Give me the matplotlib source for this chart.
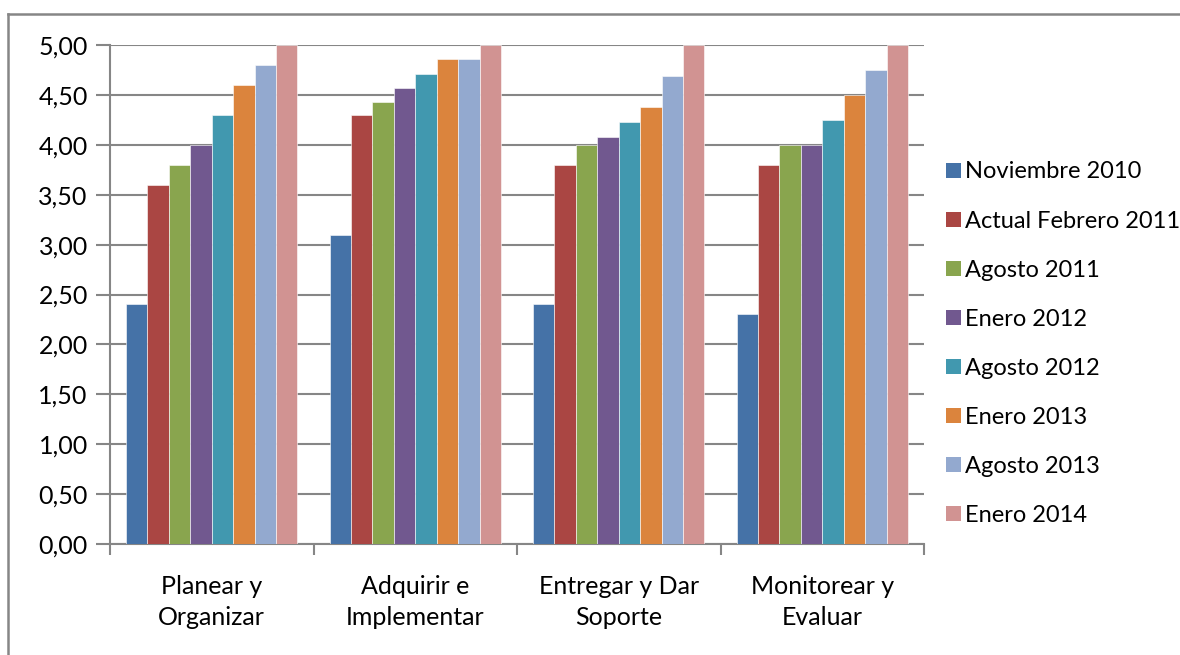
import matplotlib
matplotlib.use("Agg")
import matplotlib.pyplot as plt
from matplotlib.lines import Line2D
from matplotlib.patches import Patch
import numpy as np

plt.rcParams['font.family'] = ['Lato', 'DejaVu Sans']

categories = ["Planear y\nOrganizar", "Adquirir e\nImplementar",
              "Entregar y Dar\nSoporte", "Monitorear y\nEvaluar"]
series_names = ["Noviembre 2010", "Actual Febrero 2011", "Agosto 2011", "Enero 2012",
                "Agosto 2012", "Enero 2013", "Agosto 2013", "Enero 2014"]
noviembre_2010 = [2.40, 3.10, 2.40, 2.30]
febrero_2011 = [3.60, 4.30, 3.80, 3.80]
agosto_2011 = [3.80, 4.43, 4.00, 4.00]
enero_2012 = [4.00, 4.57, 4.08, 4.00]
agosto_2012 = [4.30, 4.71, 4.23, 4.25]
enero_2013 = [4.60, 4.86, 4.38, 4.50]
agosto_2013 = [4.80, 4.86, 4.69, 4.75]
enero_2014 = [5.00, 5.00, 5.00, 5.00]
series_values = [noviembre_2010, febrero_2011, agosto_2011, enero_2012,
                 agosto_2012, enero_2013, agosto_2013, enero_2014]
y_ticks = [0.0, 0.5, 1.0, 1.5, 2.0, 2.5, 3.0, 3.5, 4.0, 4.5, 5.0]

colors = ["#4572A7", "#AA4643", "#89A54E", "#71588F",
          "#4198AF", "#DB843D", "#93A9CF", "#D19392"]
axis_gray = "#868686"

W, H = 1180, 655
fig = plt.figure(figsize=(W / 100, H / 100), dpi=100)
ax = fig.add_axes([110 / W, 1 - 544 / H, (924 - 110) / W, (544 - 45) / H])

n_series = len(series_values)
bar_w = 1 / (n_series + 1.5)
x = np.arange(len(categories))
for j, (vals, col) in enumerate(zip(series_values, colors)):
    ax.bar(x + (j - (n_series - 1) / 2) * bar_w, vals, width=bar_w,
           color=col, edgecolor="white", linewidth=0.4, zorder=3)

ax.set_xlim(-0.5, len(categories) - 0.5)
ax.set_ylim(0, 5)
ax.set_yticks(y_ticks)
ax.set_yticklabels([f"{v:.2f}".replace(".", ",") for v in y_ticks])
ax.yaxis.grid(True, color=axis_gray, linewidth=1.5, zorder=0)
ax.set_axisbelow(True)

# group boundaries carry the tick marks, group centres carry the labels
ax.set_xticks(np.arange(-0.5, len(categories), 1.0))
ax.set_xticklabels([])
ax.set_xticks(x, minor=True)
ax.set_xticklabels(categories, minor=True)
ax.tick_params(axis="x", which="major", length=8, width=1.5, color=axis_gray, direction="out")
ax.tick_params(axis="x", which="minor", length=0, pad=22, labelsize=18)
ax.tick_params(axis="y", length=10, width=1.5, color=axis_gray, direction="out",
               pad=6, labelsize=18)
for lbl in ax.get_xticklabels(minor=True):
    lbl.set_linespacing(1.45)

for side in ["top", "right"]:
    ax.spines[side].set_visible(False)
for side in ["left", "bottom"]:
    ax.spines[side].set_color(axis_gray)
    ax.spines[side].set_linewidth(1.5)

handles = [Patch(facecolor=c, edgecolor="none") for c in colors]
fig.legend(handles, series_names, loc="upper left",
           bbox_to_anchor=(937 / W, 1 - 152 / H), frameon=False,
           fontsize=17, handlelength=0.6, handleheight=0.6,
           handletextpad=0.2, labelspacing=1.19, borderaxespad=0)

# chart-area border (top and left edges visible)
fig.add_artist(Line2D([8 / W, 8 / W], [0, 1 - 14 / H], transform=fig.transFigure,
                      color=axis_gray, linewidth=1.8))
fig.add_artist(Line2D([8 / W, 1], [1 - 14 / H, 1 - 14 / H], transform=fig.transFigure,
                      color=axis_gray, linewidth=1.8))

fig.savefig("out.png", dpi=100, facecolor="white")
